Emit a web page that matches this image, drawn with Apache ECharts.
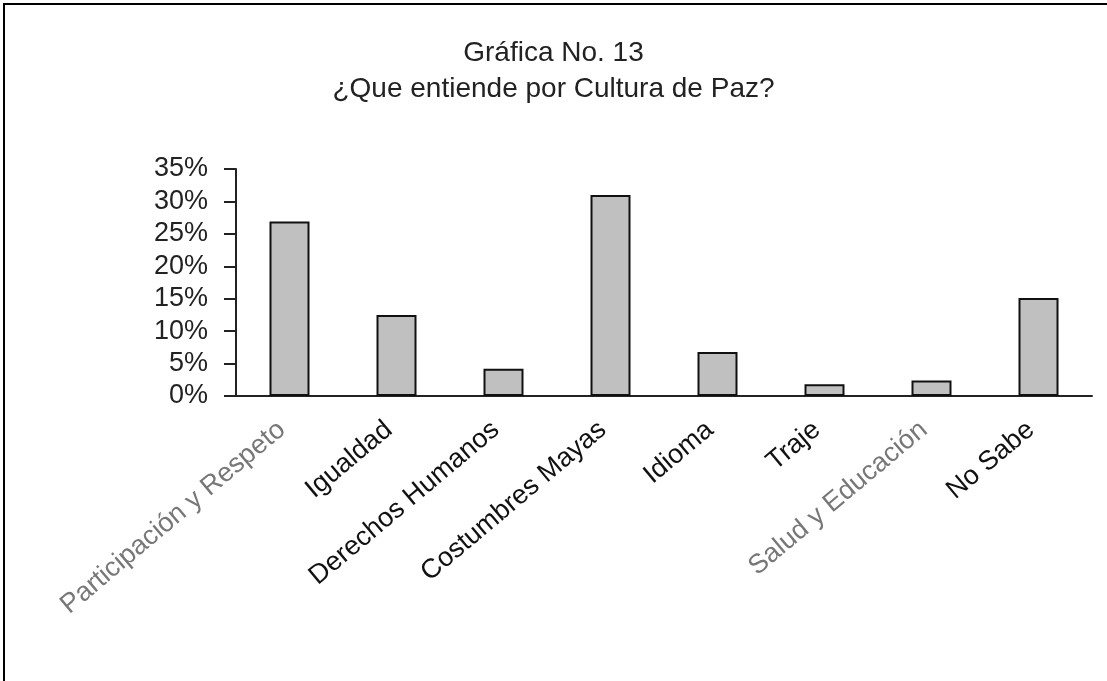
<!DOCTYPE html>
<html>
<head>
<meta charset="utf-8">
<script src="https://cdn.jsdelivr.net/npm/echarts@6/dist/echarts.min.js"></script>
<style>
	html, body { margin: 0; padding: 0; background: #fff; }
	#chart { position: absolute; left: 0; top: 0; width: 1107px; height: 681px; }
	#marco {
		position: absolute; left: 3px; top: 3px; right: 0; bottom: 0;
		border-left: 2px solid #000; border-top: 2px solid #000;
		pointer-events: none;
	}
</style>
</head>
<body>
<div id="chart"></div>
<div id="marco"></div>
<script>
	var categorias = ['Participación y Respeto', 'Igualdad', 'Derechos Humanos', 'Costumbres Mayas',
		'Idioma', 'Traje', 'Salud y Educación', 'No Sabe'];
	var porcentajes = [26.9, 12.5, 4.2, 31.0, 6.8, 1.8, 2.4, 15.1];
	var etiquetasGrises = ['Participación y Respeto', 'Salud y Educación'];

	/**
	 * 绘图
	 */
	var dom = document.getElementById('chart');
	var myChart = echarts.init(dom);
	var option = {
		animation: false,
		title: {
			text: 'Gráfica No. 13\n¿Que entiende por Cultura de Paz?',
			left: 'center',
			top: 30,
			padding: [5, 5, 5, 25],
			textStyle: {
				fontFamily: 'Liberation Sans',
				fontWeight: 'normal',
				fontSize: 28,
				lineHeight: 36,
				color: '#222'
			}
		},
		grid: {
			left: 236,
			right: 15,
			top: 169,
			bottom: 285
		},
		xAxis: {
			type: 'category',
			data: categorias,
			axisLine: { lineStyle: { color: '#222', width: 2 } },
			axisTick: { length: 10, lineStyle: { color: '#222', width: 2 } },
			axisLabel: {
				rotate: 40,
				interval: 0,
				margin: 24,
				padding: [0, 10, 0, 0],
				fontFamily: 'Liberation Sans',
				fontSize: 27,
				color: function (value) {
					return etiquetasGrises.indexOf(value) >= 0 ? '#777' : '#111';
				}
			}
		},
		yAxis: {
			type: 'value',
			min: 0,
			max: 35,
			interval: 5,
			splitLine: { show: false },
			axisLine: { show: true, lineStyle: { color: '#222', width: 2 } },
			axisTick: { show: true, length: 12, lineStyle: { color: '#222', width: 2 } },
			axisLabel: {
				margin: 28,
				fontFamily: 'Liberation Sans',
				fontSize: 27,
				color: '#222',
				formatter: '{value}%'
			}
		},
		series: [
			{
				type: 'bar',
				data: porcentajes,
				barWidth: 40,
				itemStyle: {
					color: '#c0c0c0',
					borderColor: '#111',
					borderWidth: 2
				}
			}
		]
	};
	myChart.setOption(option, true);
</script>
</body>
</html>
